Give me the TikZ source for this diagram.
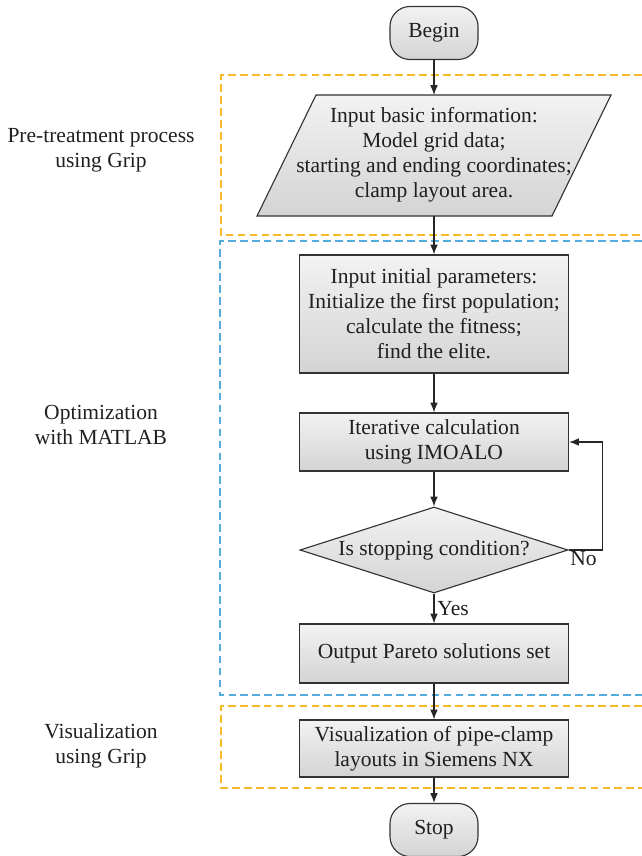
\documentclass[tikz,border=0pt]{standalone}
\usepackage{fontspec}
\setmainfont{Liberation Serif}
\usetikzlibrary{arrows.meta,positioning,shapes}

\definecolor{pretreat}{RGB}{246,186,40}
\definecolor{optim}{RGB}{86,172,222}

\tikzset{
  box/.style={draw=black!80, line width=0.8pt, top color=black!5, bottom color=black!17, align=center, inner sep=0pt},
  procbox/.style={box, minimum width=6.725cm},
  termbox/.style={box, rounded corners=0.5cm, minimum width=2.2cm, minimum height=1.325cm},
  decision/.style={box, diamond, aspect=3.1, minimum width=6.7cm, minimum height=2.15cm},
  flow/.style={->, line width=0.8pt, draw=black!85},
  region/.style={dash pattern=on 5.5pt off 3pt, line width=0.8pt},
}

\begin{document}
\begin{tikzpicture}[x=0.025cm, y=-0.025cm,
  every node/.style={font=\fontsize{15.3}{17.7}\selectfont, text=black!88},
  >={Latex[length=7pt,width=5.5pt]}]
  \useasboundingbox (0,0) rectangle (642,856);

  \draw[region, pretreat] (642,75) -- (221,75) -- (221,235) -- (642,235); %Pre-treatment region
  \draw[region, optim] (642,241) -- (220,241) -- (220,695) -- (642,695);   %Optimization region
  \draw[region, pretreat] (642,706) -- (221,706) -- (221,788) -- (642,788); %Visualization region

  \node[align=center] (pretreatlbl) at (101,150) {Pre-treatment process\\using Grip};
  \node[align=center] (optimlbl) at (101,425) {Optimization\\with MATLAB};
  \node[align=center] (visuallbl) at (101,746) {Visualization\\using Grip};

  \node[termbox] (begin) at (434,33) {Begin};

  \draw[box] (316,95) -- (611,95) -- (552,216) -- (257,216) -- cycle; %Input parallelogram
  \node[align=center] (input) at (434,155) {Input basic information:\\Model grid data;\\starting and ending coordinates;\\clamp layout area.};
  \coordinate (intop) at (434,95);
  \coordinate (inbot) at (434,216);

  \node[procbox, minimum height=2.95cm] (init) at (434,314) {Input initial parameters:\\Initialize the first population;\\calculate the fitness;\\find the elite.};
  \node[procbox, minimum height=1.45cm] (iter) at (434,442) {Iterative calculation\\using IMOALO};
  \node[decision] (stopcond) at (434,550) {Is stopping condition?};
  \node[procbox, minimum height=1.475cm] (output) at (434,653.5) {Output Pareto solutions set};
  \node[procbox, minimum height=1.425cm] (visual) at (434,748.5) {Visualization of pipe-clamp\\layouts in Siemens NX};
  \node[termbox] (stop) at (434,830) {Stop};

  \draw[flow] (begin) -- (intop);
  \draw[flow] (inbot) -- (init);
  \draw[flow] (init) -- (iter);
  \draw[flow] (iter) -- (stopcond);
  \draw[flow] (stopcond) -- node[right, inner sep=2pt] (yes) {Yes} (output);
  \draw[flow] (stopcond.east) -- ++(34,0) |- (iter.east); %Loop back
  \node[anchor=north west, inner sep=1pt] (no) at (stopcond.east) {No};
  \draw[flow] (output) -- (visual);
  \draw[flow] (visual) -- (stop);
\end{tikzpicture}
\end{document}
